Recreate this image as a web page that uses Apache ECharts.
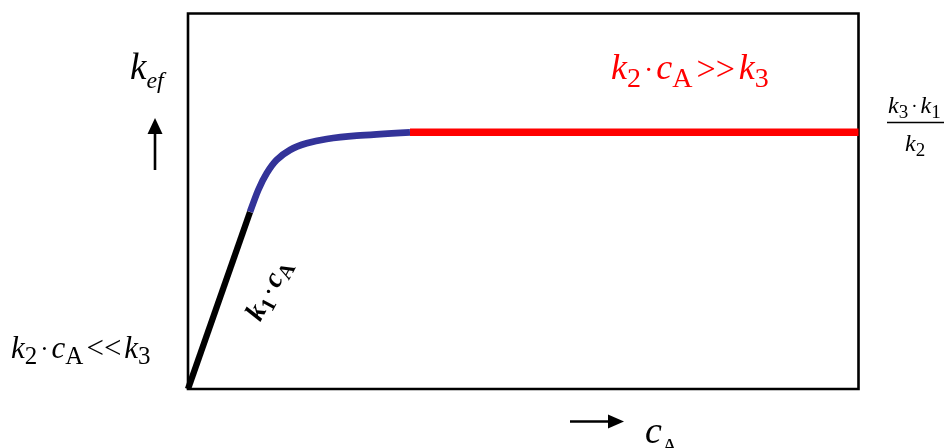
<!DOCTYPE html>
<html><head><meta charset="utf-8">
<script src="https://cdn.jsdelivr.net/npm/echarts@6/dist/echarts.min.js"></script>
<style>html,body{margin:0;padding:0;background:#fff}#c{width:948px;height:448px}</style>
</head><body><div id="c"></div>
<script>
// data (x: c_A, y: k_ef), arbitrary units 0..100
const linearX = [0, 9.25];
const linearY = [0, 47.14];
const transX = [9.25, 10.48, 11.74, 13.23, 15.21, 17.70, 20.69, 25.16, 33.11];
const transY = [47.14, 53.00, 57.44, 60.99, 63.65, 65.43, 66.58, 67.46, 68.36];
const plateauX = [33.11, 100];
const plateauY = [68.36, 68.36];

const zip = (xs, ys) => xs.map((x, i) => [x, ys[i]]);
const SERIF = '"Liberation Serif","Times New Roman",serif';

function rich(color, base, sub, op, lift, opPad, extra) {
  extra = extra || {};
  return {
    k: Object.assign({fontFamily: SERIF, fontStyle: 'italic', fontSize: base, fill: color, verticalAlign: 'bottom', padding: [0, 0, lift, 0]}, extra),
    s: Object.assign({fontFamily: SERIF, fontSize: sub, fill: color, verticalAlign: 'bottom'}, extra),
    d: Object.assign({fontFamily: SERIF, fontSize: sub, fill: color, verticalAlign: 'bottom', padding: [0, 3, lift + 2, 3]}, extra),
    o: Object.assign({fontFamily: SERIF, fontSize: op, fill: color, verticalAlign: 'bottom', padding: [0, opPad, lift, opPad]}, extra)
  };
}

const chart = echarts.init(document.getElementById('c'), null, {renderer: 'canvas'});

chart.setOption({
  animation: false,
  grid: {left: 188, top: 13.5, width: 670.5, height: 375.5, show: true, borderColor: '#000', borderWidth: 2.6, backgroundColor: 'transparent'},
  xAxis: {type: 'value', min: 0, max: 100, show: false},
  yAxis: {type: 'value', min: 0, max: 100, show: false},
  series: [
    {type: 'line', data: zip(linearX, linearY), symbol: 'none', lineStyle: {color: '#000', width: 6.3, cap: 'butt'}, z: 3},
    {type: 'line', data: zip(transX, transY), symbol: 'none', smooth: 0.25, lineStyle: {color: '#333399', width: 6.7, cap: 'butt'}, z: 3},
    {type: 'line', data: zip(plateauX, plateauY), symbol: 'none', lineStyle: {color: '#ff0000', width: 7.5, cap: 'butt'}, z: 3}
  ],
  graphic: [
    // y label k_ef
    {type: 'text', left: 130, top: 51, style: {text: '{k|k}{s|ef}', rich: {k: {fontFamily: SERIF, fontStyle: 'italic', fontSize: 37, fill: '#000', verticalAlign: 'bottom', padding: [0,0,6,0]}, s: {fontFamily: SERIF, fontStyle: 'italic', fontSize: 24, fill: '#000', verticalAlign: 'bottom'}}}},
    // up arrow
    {type: 'line', shape: {x1: 155, y1: 170, x2: 155, y2: 130}, style: {stroke: '#000', lineWidth: 2.6}},
    {type: 'polygon', shape: {points: [[155, 118], [147.5, 134], [162.5, 134]]}, style: {fill: '#000'}},
    // right arrow
    {type: 'line', shape: {x1: 570, y1: 421.5, x2: 612, y2: 421.5}, style: {stroke: '#000', lineWidth: 2.6}},
    {type: 'polygon', shape: {points: [[624, 421.5], [608, 414.5], [608, 428.5]]}, style: {fill: '#000'}},
    // x label c_A
    {type: 'text', left: 645, top: 414, style: {text: '{k|c}{s|A}', rich: {k: {fontFamily: SERIF, fontStyle: 'italic', fontSize: 38, fill: '#000', verticalAlign: 'bottom', padding: [0,0,6,0]}, s: {fontFamily: SERIF, fontSize: 22, fill: '#000', verticalAlign: 'bottom'}}}},
    // red condition
    {type: 'text', left: 611, top: 52, style: {text: '{k|k}{s|2}{d|·}{k|c}{s|A}{o|>>}{k|k}{s|3}', rich: rich('#ff0000', 36, 28, 34, 6, 4)}},
    // black condition
    {type: 'text', left: 11, top: 334, style: {text: '{k|k}{s|2}{d|·}{k|c}{s|A}{o|<<}{k|k}{s|3}', rich: rich('#000', 31, 25, 31, 5, 3)}},
    // fraction
    {type: 'text', left: 888, top: 95, style: {text: '{k|k}{s|3}{d|·}{k|k}{s|1}', rich: rich('#000', 24, 19, 24, 4, 0)}},
    {type: 'line', shape: {x1: 887, y1: 122.5, x2: 944, y2: 122.5}, style: {stroke: '#000', lineWidth: 1.5}},
    {type: 'text', left: 905, top: 133, style: {text: '{k|k}{s|2}', rich: rich('#000', 24, 19, 24, 4, 0)}},
    // slope label k1·cA rotated
    {type: 'text', x: 271, y: 291, rotation: 1.08, style: {text: '{k|k}{s|1}{d|·}{k|c}{s|A}', align: 'center', verticalAlign: 'middle',
      rich: rich('#000', 28, 21, 24, 4, 0, {fontWeight: 'bold'})}}
  ]
});
</script></body></html>
